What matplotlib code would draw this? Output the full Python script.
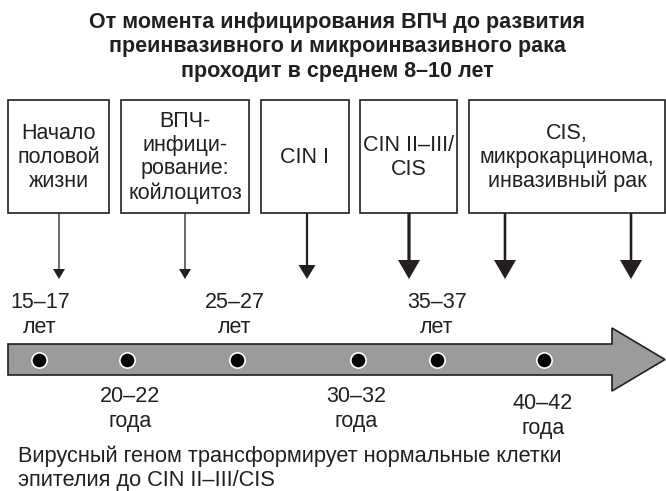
import matplotlib
matplotlib.use("Agg")
import matplotlib.pyplot as plt
from matplotlib.patches import Rectangle, FancyArrow

plt.rcParams['font.family'] = ['Liberation Sans', 'DejaVu Sans']

title_lines = ["От момента инфицирования ВПЧ до развития",
               "преинвазивного и микроинвазивного рака",
               "проходит в среднем 8–10 лет"]

stages = ["Начало\nполовой\nжизни",
          "ВПЧ-\nинфици-\nрование:\nкойлоцитоз",
          "CIN I",
          "CIN II–III/\nCIS",
          "CIS,\nмикрокарцинома,\nинвазивный рак"]

ages_top = ["15–17\nлет", "25–27\nлет", "35–37\nлет"]
ages_bottom = ["20–22\nгода", "30–32\nгода", "40–42\nгода"]

note = "Вирусный геном трансформирует нормальные клетки\nэпителия до CIN II–III/CIS"

# layout (pixel coords)
box_left = [8, 121, 261, 360, 469]
box_right = [109, 249, 349, 457, 665]
box_top, box_bottom = 100, 213
arrow_x = [59, 185, 307, 409, 505, 631]
# line width, head width, head length per arrow
arrow_style = [(1.3, 12, 10), (1.3, 12, 10), (2.2, 17, 14),
               (3.2, 22, 19), (2.6, 22, 19), (2.6, 22, 19)]
arrow_tip = 279
dot_x = [39, 127, 237, 358, 437, 544]
top_x = [40, 235, 437]
bottom_x = [130, 356, 543]
bottom_y = [409, 409, 416]

ink = "#231f20"
fs = 15.5

fig = plt.figure(figsize=(6.66, 4.91), dpi=100)
ax = fig.add_axes([0, 0, 1, 1])
ax.set_xlim(0, 666)
ax.set_ylim(491, 0)
ax.axis("off")

for i, line in enumerate(title_lines):
    ax.text(337, 22 + i * 24.5, line, ha="center", va="center",
            fontsize=15.5, fontweight="bold", color=ink)

for l, r, s in zip(box_left, box_right, stages):
    ax.add_patch(Rectangle((l, box_top), r - l, box_bottom - box_top,
                           fill=False, ec=ink, lw=1.2))
    ax.text((l + r) / 2, (box_top + box_bottom) / 2 + 1, s, ha="center",
            va="center", fontsize=fs, color=ink, linespacing=1.16)

for x, st in zip(arrow_x, arrow_style):
    lw, hw, hl = st
    ax.add_patch(FancyArrow(x, box_bottom, 0, arrow_tip - box_bottom,
                            width=lw, head_width=hw, head_length=hl,
                            length_includes_head=True, color=ink, lw=0))

# timeline arrow
ax.add_patch(FancyArrow(8, 359.5, 657, 0, width=31, head_width=63,
                        head_length=53, length_includes_head=True,
                        fc="#9b9b9b", ec=ink, lw=1.2))
ax.plot(dot_x, [360] * len(dot_x), "o", ms=11, mfc="black", mec="white",
        mew=1.2, ls="none")

for x, s in zip(top_x, ages_top):
    ax.text(x, 315, s, ha="center", va="center", fontsize=fs, color=ink,
            linespacing=1.2)
for x, y, s in zip(bottom_x, bottom_y, ages_bottom):
    ax.text(x, y, s, ha="center", va="center", fontsize=fs, color=ink,
            linespacing=1.2)

ax.text(18, 468, note, ha="left", va="center", fontsize=15.7, color=ink,
        linespacing=1.2)

fig.savefig("out.png", dpi=100)
